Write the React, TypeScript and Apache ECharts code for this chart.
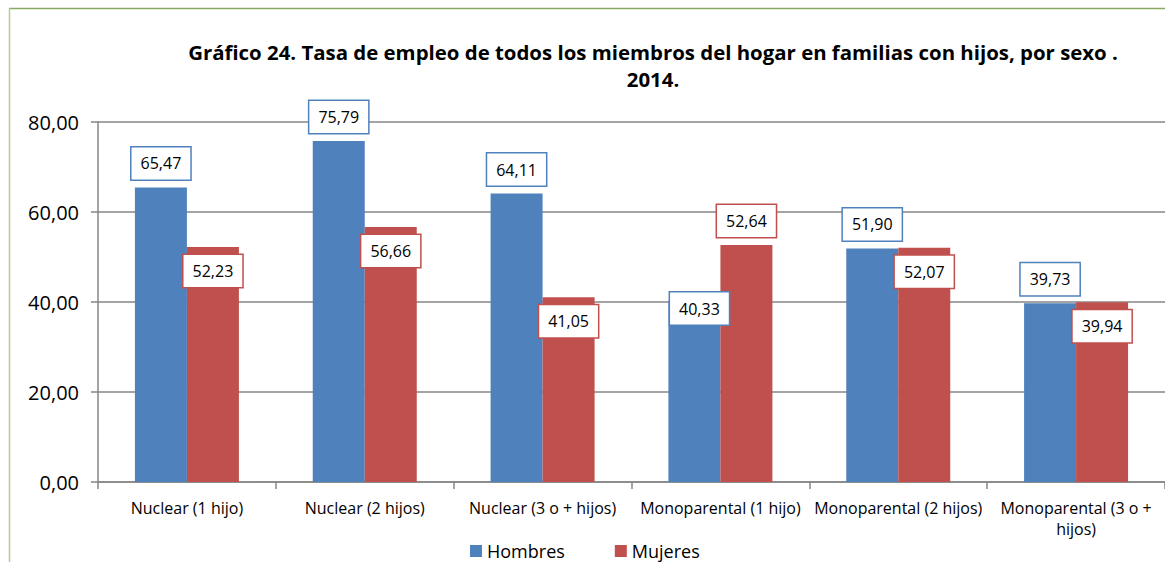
import React, { useEffect, useRef } from "react";
import * as echarts from "echarts";

const categories = [
  "Nuclear (1 hijo)",
  "Nuclear (2 hijos)",
  "Nuclear (3 o + hijos)",
  "Monoparental (1 hijo)",
  "Monoparental (2 hijos)",
  "Monoparental (3 o + hijos)",
];
const hombres = [65.47, 75.79, 64.11, 40.33, 51.9, 39.73];
const mujeres = [52.23, 56.66, 41.05, 52.64, 52.07, 39.94];
const yTicks = [0, 20, 40, 60, 80];

const FONT = "'Open Sans', Lato, sans-serif";
const BLUE = "#4F81BD";
const RED = "#C0504D";
const GRAY = "#868686";

const fmt = (v: number) => v.toFixed(2).replace(".", ",");

export default function App() {
  const ref = useRef<HTMLDivElement>(null);
  useEffect(() => {
    if (!ref.current) return;
    const chart = echarts.init(ref.current, undefined, { renderer: "svg" });

    // label placement: 'above' outside bar, 'in' inside top, 'mid' straddling top
    const hPlace = ["above", "above", "above", "mid", "above", "above"];
    const mPlace = ["in", "in", "in", "above", "in", "in"];

    const labelFor = (place: string, color: string) => {
      const base: any = {
        show: true,
        formatter: (p: any) => fmt(p.value),
        color: "#000",
        fontFamily: FONT,
        fontSize: 16,
        lineHeight: 18,
        backgroundColor: "#fff",
        borderColor: color,
        borderWidth: 1.5,
        padding: [7, 9],
      };
      if (place === "above") return { ...base, position: "top", distance: 8 };
      if (place === "in") return { ...base, position: "insideTop", distance: 8 };
      return { ...base, position: "top", distance: 0, offset: [5, 24] };
    };

    const option: any = {
      animation: false,
      backgroundColor: "#fff",
      title: {
        text:
          "Gráfico 24. Tasa de empleo de todos los miembros del hogar en familias con hijos, por sexo .\n2014.",
        left: 648,
        top: 33,
        textAlign: "center",
        textStyle: {
          fontFamily: FONT,
          fontWeight: "bold",
          fontSize: 20.4,
          lineHeight: 27,
          color: "#000",
        },
      },
      legend: {
        left: 470,
        top: 542,
        padding: 0,
        itemWidth: 12,
        itemHeight: 12,
        itemGap: 50,
        icon: "rect",
        textStyle: { fontFamily: FONT, fontSize: 18, lineHeight: 18, color: "#000" },
        data: ["Hombres", "Mujeres"],
      },
      grid: { left: 98, right: -2, top: 122, bottom: 80, containLabel: false },
      xAxis: {
        type: "category",
        data: categories,
        axisLine: { show: true, lineStyle: { color: GRAY, width: 1.5 } },
        axisTick: { show: true, length: 7, lineStyle: { color: GRAY, width: 1.5 } },
        axisLabel: {
          fontFamily: FONT,
          fontSize: 16,
          color: "#000",
          margin: 15,
          lineHeight: 21,
          interval: 0,
          formatter: (v: string) =>
            v.startsWith("Monoparental") ? v.replace("+ hijos", "+\nhijos") : v,
        },
      },
      yAxis: {
        type: "value",
        min: yTicks[0],
        max: yTicks[yTicks.length - 1],
        interval: 20,
        axisLine: { show: true, lineStyle: { color: GRAY, width: 1.5 } },
        axisTick: { show: true, length: 7, lineStyle: { color: GRAY, width: 1.5 } },
        splitLine: { show: true, lineStyle: { color: GRAY, width: 1.5 } },
        axisLabel: {
          fontFamily: FONT,
          fontSize: 20,
          color: "#000",
          margin: 19,
          formatter: (v: number) => fmt(v),
        },
      },
      series: [
        {
          name: "Hombres",
          type: "bar",
          barWidth: 52,
          barGap: "0%",
          itemStyle: { color: BLUE },
          data: hombres.map((v, i) => ({ value: v, label: labelFor(hPlace[i], BLUE) })),
        },
        {
          name: "Mujeres",
          type: "bar",
          barWidth: 52,
          barGap: "0%",
          itemStyle: { color: RED },
          data: mujeres.map((v, i) => ({ value: v, label: labelFor(mPlace[i], RED) })),
        },
      ],
      graphic: [
        {
          type: "line",
          shape: { x1: 9, y1: 8.5, x2: 1165, y2: 8.5 },
          style: { stroke: "#86A962", lineWidth: 1.5 },
        },
        {
          type: "line",
          shape: { x1: 9.5, y1: 8, x2: 9.5, y2: 562 },
          style: { stroke: "#B4CC8E", lineWidth: 1.5 },
        },
      ],
    };
    chart.setOption(option);
    return () => chart.dispose();
  }, []);
  return (
    <div
      ref={ref}
      style={{ position: "absolute", left: 0, top: 0, width: 1165, height: 562 }}
    />
  );
}
